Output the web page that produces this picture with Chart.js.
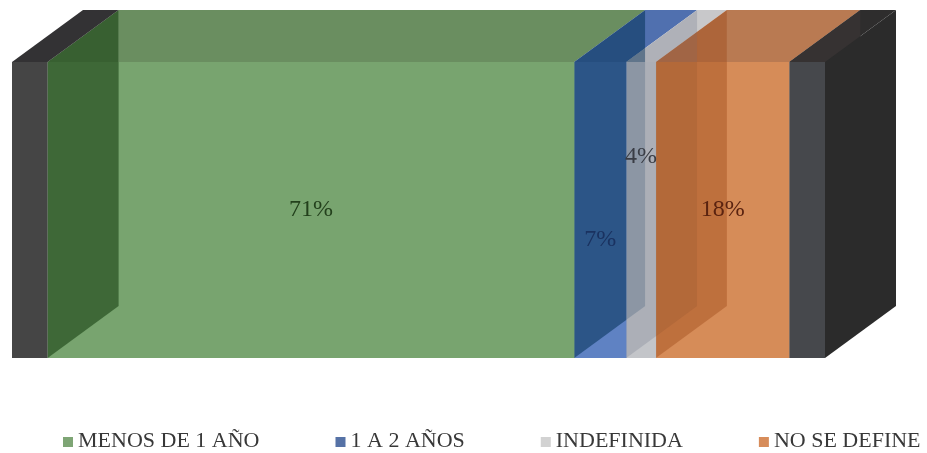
<!DOCTYPE html>
<html>
<head>
<meta charset="utf-8">
<script src="https://cdn.jsdelivr.net/npm/chart.js@4.4.0/dist/chart.umd.min.js"></script>
<style>
  html, body { margin: 0; padding: 0; background: #fff; }
</style>
</head>
<body>
<canvas id="chart" width="927" height="453"></canvas>
<script>
const categories = ['MENOS DE 1 AÑO', '1 A 2 AÑOS', 'INDEFINIDA', 'NO SE DEFINE'];
const shares = [71, 7, 4, 18];

// face colours per segment
const frontColors = ['#78a46f', '#5f82c3', '#c3c5c9', '#d68c58'];
const topColors = ['#6a8e60', '#5070af', '#c8c8ca', '#b97a52'];
const sideTints = ['rgba(23,65,18,0.6)', 'rgba(10,55,95,0.6)', 'rgba(118,127,143,0.3)', 'rgba(154,70,23,0.4)'];
const spillTints = ['rgba(23,65,18,0.25)', 'rgba(10,55,95,0.25)', 'rgba(60,40,30,0.12)', 'rgba(154,70,23,0.15)'];
const swatchColors = ['#7ea575', '#5672a6', '#d2d2d2', '#d78c5a'];
const labelInk = ['#23401c', '#1a3260', '#3a3d45', '#5a2310'];
const labelShift = [0, 30, -53, 0];

const DEPTH_X = 71;
const DEPTH_Y = 52;
const WALL = 4.8;

function poly(ctx, pts, fill) {
  ctx.beginPath();
  ctx.moveTo(pts[0][0], pts[0][1]);
  for (let i = 1; i < pts.length; i++) ctx.lineTo(pts[i][0], pts[i][1]);
  ctx.closePath();
  ctx.fillStyle = fill;
  ctx.fill();
}

// extrudes the stacked bar into a block with end walls
const boxPlugin = {
  id: 'box3d',
  afterDatasetsDraw(chart) {
    const ctx = chart.ctx;
    const xs = chart.scales.x;
    const top = chart.chartArea.top;
    const bottom = chart.chartArea.bottom;
    const dx = DEPTH_X, dy = DEPTH_Y;

    const segs = chart.data.datasets.map((ds, i) => {
      const bar = chart.getDatasetMeta(i).data[0].getProps(['x', 'y', 'base'], true);
      return { x0: Math.min(bar.base, bar.x), x1: Math.max(bar.base, bar.x), y: bar.y };
    });

    ctx.save();
    // top faces
    segs.forEach((s, i) => {
      poly(ctx, [[s.x0, top], [s.x1, top], [s.x1 + dx, top - dy], [s.x0 + dx, top - dy]], topColors[i]);
    });

    // left faces seen through the fronts
    segs.forEach((s, i) => {
      const side = [[s.x0, top], [s.x0 + dx, top - dy], [s.x0 + dx, bottom - dy], [s.x0, bottom]];
      ctx.save();
      ctx.beginPath();
      ctx.rect(s.x0, top - dy, dx, dy);
      ctx.rect(s.x0, top, s.x1 - s.x0, bottom - top);
      ctx.clip();
      poly(ctx, side, sideTints[i]);
      ctx.restore();
      if (s.x0 + dx > s.x1) {
        ctx.save();
        ctx.beginPath();
        ctx.rect(s.x1, top, s.x0 + dx - s.x1, bottom - top);
        ctx.clip();
        poly(ctx, side, spillTints[i]);
        ctx.restore();
      }
    });

    // left wall
    const l0 = xs.getPixelForValue(-WALL), l1 = xs.getPixelForValue(0);
    poly(ctx, [[l0, top], [l1, top], [l1, bottom], [l0, bottom]], '#454545');
    poly(ctx, [[l0, top], [l1, top], [l1 + dx, top - dy], [l0 + dx, top - dy]], '#333234');

    // right wall
    const r0 = xs.getPixelForValue(100), r1 = xs.getPixelForValue(100 + WALL);
    poly(ctx, [[r0, top], [r1, top], [r1, bottom], [r0, bottom]], '#46484c');
    poly(ctx, [[r0, top], [r1, top], [r1 + dx, top - dy], [r0 + dx, top - dy]], '#2e2d2d');
    poly(ctx, [[r0, top], [r0 + dx, top - dy], [r0 + dx, top]], '#363232');
    poly(ctx, [[r1, top], [r1 + dx, top - dy], [r1 + dx, bottom - dy], [r1, bottom]], '#2b2b2b');

    // percentage labels
    ctx.font = '24px "Liberation Serif"';
    ctx.textAlign = 'center';
    ctx.textBaseline = 'middle';
    segs.forEach((s, i) => {
      ctx.fillStyle = labelInk[i];
      ctx.fillText(shares[i] + '%', (s.x0 + s.x1) / 2, s.y + labelShift[i]);
    });
    ctx.restore();
  },
  afterDraw(chart) {
    // legend row under the block
    const ctx = chart.ctx;
    const y = 441;
    let x = 63;
    ctx.save();
    ctx.font = '22px "Liberation Serif"';
    ctx.textAlign = 'left';
    ctx.textBaseline = 'middle';
    categories.forEach((name, i) => {
      ctx.fillStyle = swatchColors[i];
      ctx.fillRect(x, y - 4, 10, 10);
      ctx.fillStyle = '#383838';
      ctx.fillText(name, x + 15, y);
      x += 15 + ctx.measureText(name).width + 76;
    });
    ctx.restore();
  }
};

new Chart(document.getElementById('chart'), {
  type: 'bar',
  data: {
    labels: [''],
    datasets: categories.map((name, i) => ({
      label: name,
      data: [shares[i]],
      backgroundColor: frontColors[i],
      borderWidth: 0,
      barPercentage: 1,
      categoryPercentage: 1
    }))
  },
  options: {
    indexAxis: 'y',
    responsive: false,
    animation: false,
    layout: { padding: { top: 62, bottom: 95, left: 12, right: 102 } },
    scales: {
      x: { stacked: true, min: -WALL, max: 100 + WALL, display: false },
      y: { stacked: true, display: false }
    },
    plugins: {
      legend: { display: false },
      tooltip: { enabled: false }
    }
  },
  plugins: [boxPlugin]
});
</script>
</body>
</html>
